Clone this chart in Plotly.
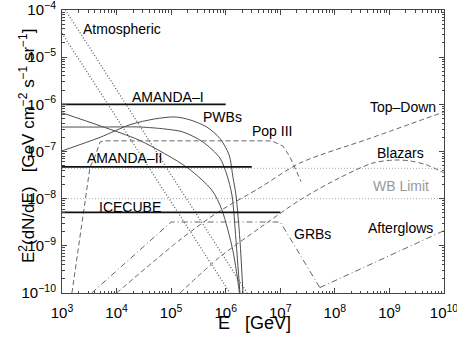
import plotly.graph_objects as go

# energies in GeV, fluxes E^2 dN/dE in GeV cm^-2 s^-1 sr^-1
atm1_E = [1e3, 1e4, 1e5, 1e6, 2e6]
atm1_F = [3.2e-5, 5.3e-7, 8.7e-9, 1.45e-10, 4e-11]
atm2_E = [1e3, 1e4, 1e5, 1e6, 3e6]
atm2_F = [1.3e-4, 2.0e-6, 3.2e-8, 5.1e-10, 7e-11]

amanda1_E = [1e3, 1e6]
amanda1_F = [1e-6, 1e-6]
amanda2_E = [1e3, 3e6]
amanda2_F = [4.7e-8, 4.7e-8]
icecube_E = [1e3, 1e7]
icecube_F = [5.1e-9, 5.1e-9]

wb_hi_F = [4.4e-8, 4.4e-8]
wb_lo_F = [1e-8, 1e-8]
wb_E = [1e3, 1e10]

pwb_a_E = [1e3, 5e3, 2.7e4, 2e5, 5.6e5, 8.5e5, 1.35e6, 1.75e6, 1.8e6]
pwb_a_F = [6.6e-7, 3.5e-7, 1.7e-7, 4.5e-8, 1.5e-8, 5.8e-9, 8e-10, 1.2e-10, 9e-11]
pwb_b_E = [1e3, 5e3, 2.7e4, 7.7e4, 1.64e5, 3.8e5, 7.8e5, 1.05e6, 1.3e6, 1.54e6, 1.82e6]
pwb_b_F = [3.3e-7, 3.3e-7, 3.3e-7, 3.0e-7, 2.6e-7, 1.6e-7, 7.3e-8, 3.2e-8, 1.2e-8, 1.34e-9, 1e-10]
pwb_c_E = [1e3, 5e3, 1.76e4, 5e4, 1.17e5, 2.2e5, 4.5e5, 7.8e5, 1.15e6, 1.36e6, 1.54e6, 1.82e6, 2.07e6]
pwb_c_F = [1.03e-7, 2.0e-7, 3.7e-7, 4.9e-7, 5.4e-7, 4.7e-7, 3.3e-7, 1.9e-7, 8.5e-8, 2.8e-8, 1.2e-8, 1.34e-9, 1e-10]

pop3_E = [1.52e3, 3.26e3, 4.0e3, 5.0e3, 5.9e3, 7.0e6, 1.12e7, 1.5e7, 1.93e7, 2.4e7]
pop3_F = [1e-10, 4.7e-8, 7.7e-8, 1.6e-7, 1.68e-7, 1.68e-7, 1.3e-7, 7.7e-8, 4.1e-8, 2.3e-8]

td_E = [1e4, 1.45e5, 6.9e5, 4.2e6, 2.3e7, 4.4e8, 1e10]
td_F = [1e-10, 1.34e-9, 5.0e-9, 1.7e-8, 5.7e-8, 1.9e-7, 6.9e-7]

blz_E = [1.45e5, 7.8e5, 4.2e6, 2.3e7, 1.24e8, 5.0e8, 1.26e9, 2.4e9, 4.8e9, 1e10]
blz_F = [1e-10, 5.8e-10, 2.4e-9, 9.4e-9, 2.8e-8, 5.7e-8, 6.6e-8, 6.3e-8, 5.2e-8, 3.5e-8]

grb_E = [3.5e3, 1e5, 1e7, 5.3e7]
grb_F = [1e-10, 3.2e-9, 3.2e-9, 1.3e-10]
aft_E = [5.3e7, 1e10]
aft_F = [1.3e-10, 2.1e-9]

FONT = "Liberation Sans, Arial, sans-serif"

fig = go.Figure()


def add(x, y, color, width, dash="solid", shape="linear"):
    fig.add_trace(go.Scatter(x=x, y=y, mode="lines", showlegend=False, hoverinfo="skip", cliponaxis=True,
                             line=dict(color=color, width=width, dash=dash, shape=shape, smoothing=0.8)))


add(wb_E, wb_hi_F, "#aaaaaa", 1, "1px,2px")
add(wb_E, wb_lo_F, "#aaaaaa", 1, "1px,2px")
add(atm1_E, atm1_F, "#555555", 1.2, "1px,2px")
add(atm2_E, atm2_F, "#555555", 1.2, "1px,2px")
add(pwb_a_E, pwb_a_F, "#4d4d4d", 1, shape="spline")
add(pwb_b_E, pwb_b_F, "#4d4d4d", 1, shape="spline")
add(pwb_c_E, pwb_c_F, "#4d4d4d", 1, shape="spline")
add(pop3_E, pop3_F, "#666666", 1, "5px,3px")
add(td_E, td_F, "#666666", 1, "5px,3px", shape="spline")
add(blz_E, blz_F, "#666666", 1, "5px,3px", shape="spline")
add(grb_E, grb_F, "#666666", 1, "6px,3px,1px,3px")
add(aft_E, aft_F, "#666666", 1, "6px,3px,1px,3px")
add(amanda1_E, amanda1_F, "#111111", 1.8)
add(amanda2_E, amanda2_F, "#111111", 1.8)
add(icecube_E, icecube_F, "#111111", 1.8)


def px(x, y):
    return (x - 62) / 382, (293 - y) / 283


labels = [
    ("Atmospheric", 122, 29, "black"),
    ("AMANDA–I", 168, 97, "black"),
    ("PWBs", 222, 117, "black"),
    ("Pop III", 272, 131, "black"),
    ("Top–Down", 403, 107, "black"),
    ("AMANDA–II", 124, 158, "black"),
    ("Blazars", 400, 153, "black"),
    ("WB Limit", 401, 186, "#999999"),
    ("ICECUBE", 130, 207, "black"),
    ("Afterglows", 400, 228, "black"),
    ("GRBs", 312, 234, "black"),
]
for txt, lx, ly, col in labels:
    ax, ay = px(lx, ly)
    fig.add_annotation(text=txt, x=ax, y=ay, xref="paper", yref="paper", showarrow=False,
                       font=dict(family=FONT, size=14, color=col), xanchor="center", yanchor="middle")

tx, ty = px(254, 311)
fig.add_annotation(text="E\u00a0\u00a0\u00a0[GeV]", x=tx, y=ty, xref="paper", yref="paper",
                   showarrow=False, font=dict(family=FONT, size=18, color="black"), yanchor="top")
tx, ty = px(14, 146)
fig.add_annotation(text="E<sup>2</sup>(dN/dE)\u00a0\u00a0\u00a0[GeV cm<sup>−2</sup> s<sup>−1</sup> sr<sup>−1</sup>]",
                   x=tx, y=ty, xref="paper", yref="paper", textangle=-90,
                   showarrow=False, font=dict(family=FONT, size=17, color="black"))

xminor = [k * 10 ** n for n in range(3, 10) for k in range(2, 10)]
yminor = [k * 10.0 ** n for n in range(-10, -4) for k in range(2, 10)]
axis_common = dict(type="log", showgrid=False, zeroline=False, showline=True, linecolor="#444444",
                   linewidth=1, mirror="allticks", ticks="inside", ticklen=5, tickcolor="#444444",
                   automargin=False, ticklabeloverflow="allow",
                   tickfont=dict(family=FONT, size=15, color="black"))
fig.update_xaxes(range=[3, 10], tickvals=[10.0 ** n for n in range(3, 11)],
                 ticktext=[f"10<sup>{n}</sup>" for n in range(3, 11)], ticklabelstandoff=6,
                 minor=dict(tickvals=xminor, ticks="inside", ticklen=2.5, tickcolor="#444444", showgrid=False),
                 **axis_common)
fig.update_yaxes(range=[-10, -4], tickvals=[10.0 ** n for n in range(-10, -3)],
                 ticktext=[f"10<sup>−{-n}</sup>" for n in range(-10, -3)], ticklabelstandoff=2,
                 minor=dict(tickvals=yminor, ticks="inside", ticklen=2.5, tickcolor="#444444", showgrid=False),
                 **axis_common)
fig.update_layout(width=457, height=337, margin=dict(l=62, r=13, t=10, b=44),
                  plot_bgcolor="white", paper_bgcolor="white", font=dict(family=FONT))
# the page's default body margin would shift the figure; drop it once drawn
fig.write_html("out.html", config={"displayModeBar": False},
               post_script="document.body.style.margin='0';")
